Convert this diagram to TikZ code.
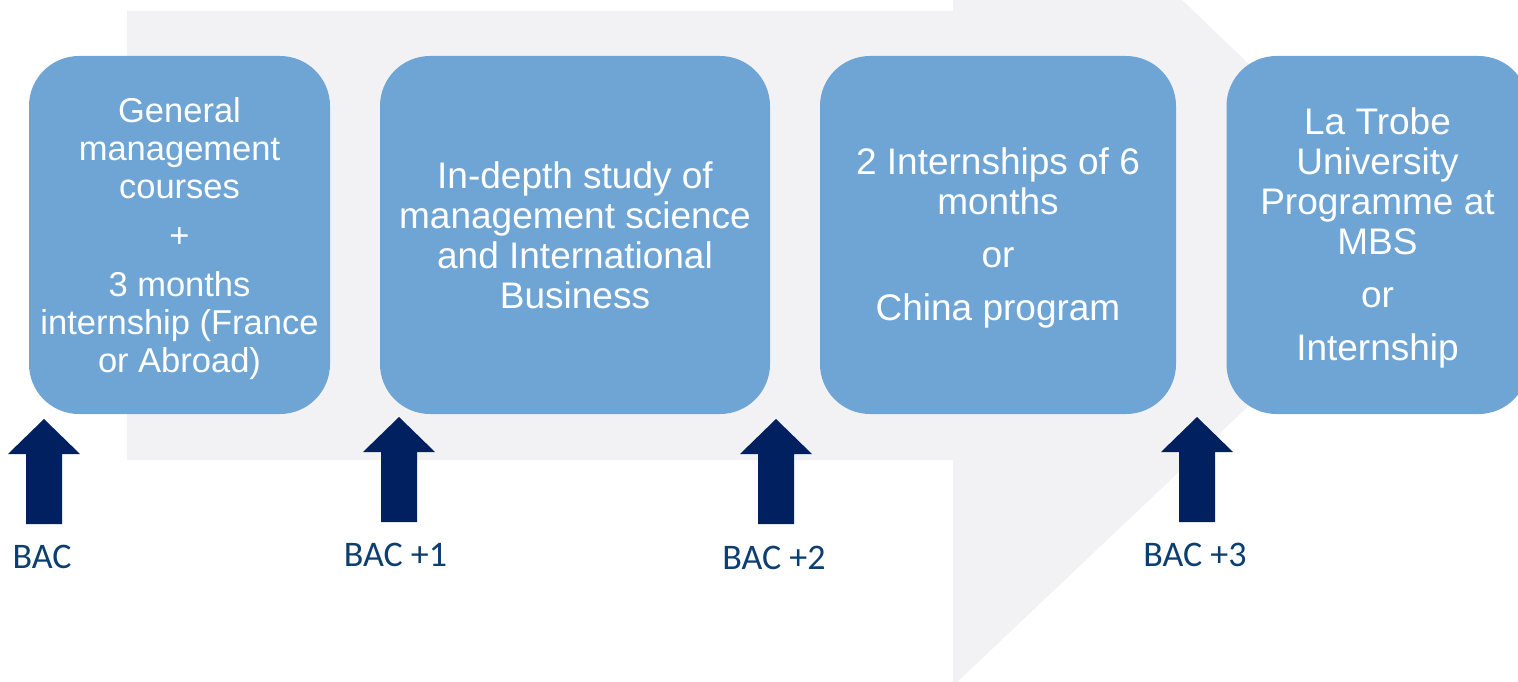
\documentclass[tikz,border=0pt]{standalone}
\usepackage{fontspec}
\setmainfont{Liberation Sans}
\newfontfamily\labelfont{Carlito}
\definecolor{bggray}{RGB}{242,242,244}
\definecolor{boxblue}{RGB}{111,165,212}
\definecolor{navy}{RGB}{0,32,96}
\definecolor{labelblue}{RGB}{12,62,112}
\begin{document}
\begin{tikzpicture}[x=1pt,y=-1pt,
  box/.style={fill=boxblue, rounded corners=50pt, minimum height=358pt, inner sep=0pt},
  boxtext/.style={inner sep=0pt, align=center, text=white},
  smalltext/.style={font=\fontsize{34.5}{38}\selectfont},
  bigtext/.style={font=\fontsize{37}{40}\selectfont},
  baclabel/.style={font=\labelfont\fontsize{36}{40}\selectfont, text=labelblue, anchor=base, inner sep=0pt},
  uparrow/.pic={\fill[navy] (-18,105) -- (-18,35) -- (-36,35) -- (0,0) -- (36,35) -- (18,35) -- (18,105) -- cycle;}
]
\useasboundingbox (0,0) rectangle (1518,682);
% background arrow
\fill[bggray] (127,11) -- (953,11) -- (953,-220) -- (1428,236) -- (953,686) -- (953,460) -- (127,460) -- cycle;
% boxes
\node[box, minimum width=301pt] (b1) at (179.5,235) {};
\node[box, minimum width=390pt] (b2) at (575,235) {};
\node[box, minimum width=356pt] (b3) at (998,235) {};
\node[box, minimum width=302pt] (b4) at (1377.5,235) {};
% box texts
\node[boxtext, smalltext] (t1) at ([yshift=-3.5pt]b1.center)
  {General\\management\\courses\\[11pt]+\\[11pt]3 months\\internship (France\\or Abroad)};
\node[boxtext, bigtext] (t2) at ([yshift=-0.5pt]b2.center)
  {In-depth study of\\management science\\and International\\Business};
\node[boxtext, bigtext] (t3) at ([yshift=-3pt]b3.center)
  {2 Internships of 6\\months\\[13pt]or\\[13pt]China program};
\node[boxtext, bigtext] (t4) at ([yshift=-2.5pt]b4.center)
  {La Trobe\\University\\Programme at\\MBS\\[13pt]or\\[13pt]Internship};
% up arrows
\pic at (44,419) {uparrow};
\pic at (399,417) {uparrow};
\pic at (776,419) {uparrow};
\pic at (1197,417) {uparrow};
% labels
\node[baclabel] (l0) at (42,568) {BAC};
\node[baclabel] (l1) at (395.5,566) {BAC +1};
\node[baclabel] (l2) at (774,569) {BAC +2};
\node[baclabel] (l3) at (1195,566) {BAC +3};
\end{tikzpicture}
\end{document}
